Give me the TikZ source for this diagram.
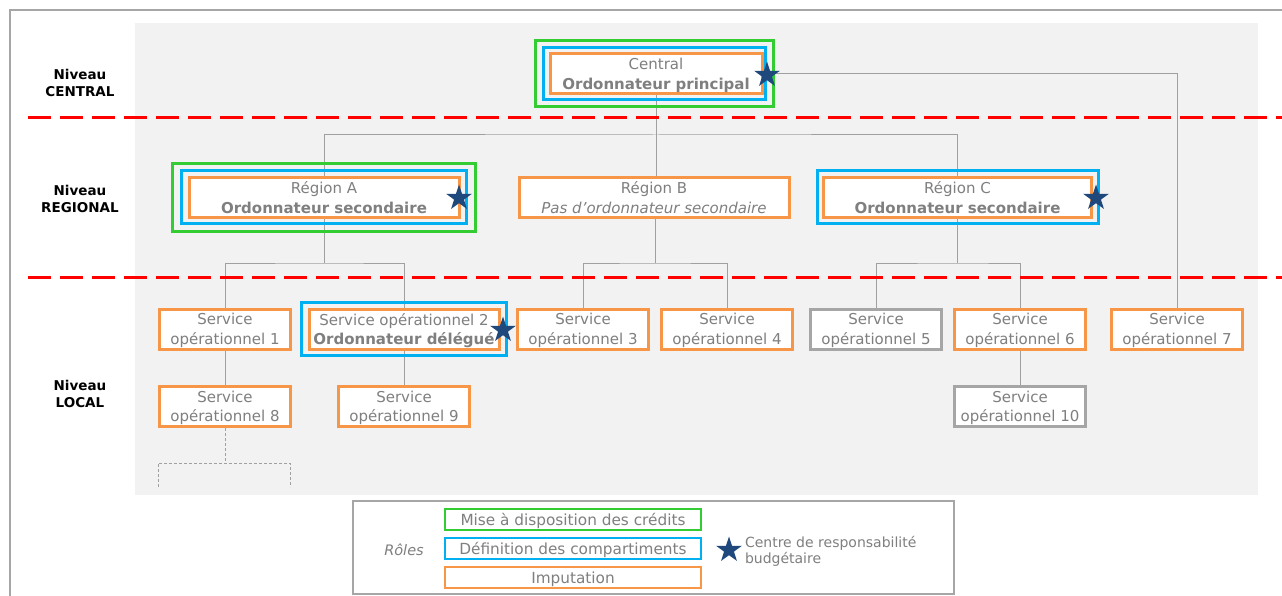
\documentclass[tikz,border=0pt]{standalone}
\usepackage{fontspec}
\setmainfont{DejaVu Sans}
\usetikzlibrary{shapes.geometric}
\definecolor{bggray}{HTML}{F2F2F2}
\definecolor{txtgray}{HTML}{7F7F7F}
\definecolor{orng}{HTML}{F79646}
\definecolor{blu}{HTML}{00B0F0}
\definecolor{grn}{HTML}{33CC33}
\definecolor{starblue}{HTML}{1F497D}
\definecolor{linegray}{HTML}{A0A0A0}
\definecolor{boxgray}{HTML}{A6A6A6}
\definecolor{redline}{HTML}{FF0000}
\begin{document}
\begin{tikzpicture}[x=1pt,y=-1pt,
 every node/.style={inner sep=0pt, outer sep=0pt},
 txt/.style={text=txtgray, font=\fontsize{15}{19.5}\selectfont, align=center, text depth=0pt},
 obox/.style={txt, draw=orng, line width=3pt, fill=white, minimum height=40pt},
 sbox/.style={obox, minimum width=131pt},
 graybox/.style={txt, draw=boxgray, line width=3pt, fill=white, minimum height=40pt, minimum width=131pt},
 bframe/.style={draw=blu, line width=3pt},
 gframe/.style={draw=grn, line width=3pt},
 conn/.style={draw=linegray, line width=1pt},
 rstar/.style={star, star points=5, star point ratio=2.6, minimum size=27pt, fill=starblue},
 lvl/.style={font=\fontsize{13.5}{17}\selectfont\bfseries, align=center},
 sepline/.style={draw=redline, line width=3pt, dash pattern=on 23pt off 9pt},
 legbox/.style={text=txtgray, font=\fontsize{15.3}{18}\selectfont, line width=2pt, fill=white, minimum width=256pt, minimum height=21pt, text depth=0pt},
]
\useasboundingbox (0,0) rectangle (1282,596);
% background
\fill[white] (0,0) rectangle (1282,596);
\draw[boxgray, line width=1.5pt] (10,597) -- (10,10) -- (1283,10);
\fill[bggray] (135,23) rectangle (1258,495);

% level labels
\node[lvl] (lc) at (80,82.5) {Niveau\\CENTRAL};
\node[lvl] (lr) at (80,199) {Niveau\\REGIONAL};
\node[lvl] (ll) at (80,394) {Niveau\\LOCAL};

% coordinates for connector routing
\coordinate (barR) at (656,135);
\coordinate (barA) at (324,263);
\coordinate (barB) at (655,263);
\coordinate (barC) at (957.5,263);
\coordinate (c7) at (1177,74);

% connectors
\path (656,95) coordinate (cS);
\draw[conn] (cS) -- (656,177);
\draw[conn] (324,177) |- (barR) -| (957.5,177);
\draw[conn] (776,74) -- (c7) -- (1177,308);
\draw[conn] (324,218) -- (barA);
\draw[conn] (225,308) |- (barA) -| (404,308);
\draw[conn] (655,218) -- (barB);
\draw[conn] (583,308) |- (barB) -| (727,308);
\draw[conn] (957.5,218) -- (barC);
\draw[conn] (876,308) |- (barC) -| (1020,308);
\draw[conn] (225,350) -- (225,386);
\draw[conn] (404,350) -- (404,386);
\draw[conn] (1020,350) -- (1020,386);
\draw[linegray, line width=1pt, dash pattern=on 3pt off 2pt] (225,428) -- (225,463);
\draw[linegray, line width=1pt, dash pattern=on 3pt off 2pt] (158,487) -- (158,463) -- (290,463) -- (290,487);

% red separators
\draw[sepline] (28,118) -- (1282,118);
\draw[sepline] (28,277) -- (1282,277);

% Central
\node[gframe, minimum width=238pt, minimum height=66pt] (Cg) at (654.5,73.5) {};
\node[bframe, minimum width=222pt, minimum height=52pt] (Cb) at (654.5,73.5) {};
\node[obox, minimum width=212pt] (C) at (656,74) {Central\\\textbf{Ordonnateur principal}};
\node[rstar] (sC) at (767,75) {};

% Regions
\node[gframe, minimum width=303pt, minimum height=67pt] (RAg) at (323.5,197.5) {};
\node[bframe, minimum width=285pt, minimum height=53pt] (RAb) at (323.5,197.5) {};
\node[obox, minimum width=270pt] (RA) at (324,197.5) {Région A\\\textbf{Ordonnateur secondaire}};
\node[rstar] (sA) at (459,198) {};

\node[obox, minimum width=270pt] (RB) at (654,197.5) {Région B\\\textit{Pas d’ordonnateur secondaire}};

\node[bframe, minimum width=281pt, minimum height=53pt] (RCb) at (958,197.5) {};
\node[obox, minimum width=268pt] (RC) at (957.5,197.5) {Région C\\\textbf{Ordonnateur secondaire}};
\node[rstar] (sRC) at (1096,198) {};

% Services row 1
\node[sbox] (S1) at (225,329) {Service\\opérationnel 1};
\node[bframe, minimum width=205pt, minimum height=53pt] (S2b) at (403.5,329) {};
\node[obox, minimum width=190pt] (S2) at (404,329) {Service opérationnel 2\\\textbf{Ordonnateur délégué}};
\node[rstar] (sS2) at (503,330) {};
\node[sbox] (S3) at (583,329) {Service\\opérationnel 3};
\node[sbox] (S4) at (727,329) {Service\\opérationnel 4};
\node[graybox] (S5) at (876,329) {Service\\opérationnel 5};
\node[sbox] (S6) at (1020,329) {Service\\opérationnel 6};
\node[sbox] (S7) at (1177,329) {Service\\opérationnel 7};

% Services row 2
\node[sbox] (S8) at (225,406.5) {Service\\opérationnel 8};
\node[sbox] (S9) at (404,406.5) {Service\\opérationnel 9};
\node[graybox] (S10) at (1020,406.5) {Service\\opérationnel 10};

% Legend
\node[draw=boxgray, line width=1.5pt, fill=white, minimum width=601pt, minimum height=93pt] (leg) at (653.5,547.5) {};
\node[text=txtgray, font=\fontsize{14.5}{18}\selectfont\itshape, text depth=0.5pt] (roles) at (404,550) {Rôles};
\node[legbox, draw=grn] (l1) at (573,519.5) {Mise à disposition des crédits};
\node[legbox, draw=blu] (l2) at (573,548.5) {Définition des compartiments};
\node[legbox, draw=orng] (l3) at (573,577.5) {Imputation};
\node[rstar] (ls) at (729,550) {};
\node[anchor=west, text=txtgray, font=\fontsize{14}{16}\selectfont, align=left, text depth=0.5pt] (lt) at (745,550) {Centre de responsabilité\\budgétaire};
\end{tikzpicture}
\end{document}
